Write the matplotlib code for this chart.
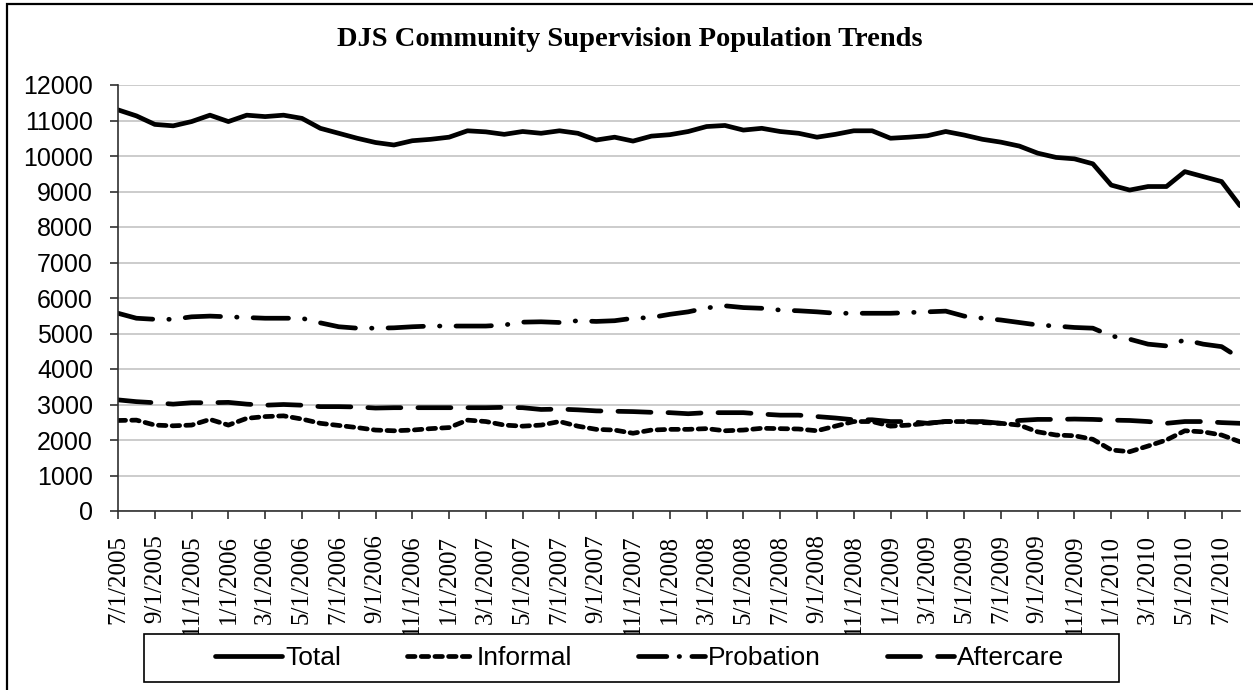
import matplotlib
matplotlib.use("Agg")
import matplotlib.pyplot as plt
import pandas as pd
from matplotlib.patches import Rectangle

# monthly counts, 7/2005 .. 8/2010
dates = pd.date_range("2005-07-01", periods=62, freq="MS")

total = [11300, 11130, 10890, 10850, 10970, 11150, 10970, 11150, 11110, 11150,
         11060, 10780, 10640, 10500, 10380, 10310, 10430, 10470, 10530, 10710,
         10680, 10610, 10690, 10640, 10710, 10640, 10450, 10530, 10420, 10560,
         10600, 10690, 10830, 10860, 10730, 10780, 10690, 10640, 10530, 10610,
         10710, 10710, 10500, 10530, 10570, 10690, 10590, 10470, 10390, 10280,
         10080, 9960, 9920, 9780, 9180, 9040, 9140, 9140, 9560, 9420,
         9280, 8600]

informal = [2550, 2560, 2420, 2400, 2420, 2580, 2420, 2610, 2660, 2680,
            2590, 2470, 2410, 2350, 2280, 2260, 2280, 2320, 2350, 2560,
            2520, 2420, 2390, 2420, 2520, 2390, 2300, 2280, 2190, 2280,
            2300, 2300, 2320, 2260, 2280, 2330, 2320, 2310, 2260, 2390,
            2520, 2520, 2390, 2420, 2470, 2520, 2520, 2490, 2470, 2420,
            2230, 2140, 2120, 2020, 1720, 1670, 1830, 2000, 2260, 2230,
            2140, 1950]

probation = [5570, 5430, 5400, 5400, 5470, 5490, 5470, 5450, 5430, 5430,
             5430, 5300, 5190, 5150, 5150, 5160, 5190, 5210, 5210, 5210,
             5210, 5240, 5320, 5330, 5310, 5360, 5340, 5360, 5430, 5450,
             5540, 5610, 5720, 5780, 5730, 5710, 5660, 5640, 5610, 5570,
             5570, 5570, 5570, 5590, 5610, 5630, 5490, 5430, 5380, 5310,
             5240, 5210, 5170, 5150, 4930, 4840, 4700, 4650, 4820, 4700,
             4630, 4300]

aftercare = [3130, 3080, 3050, 3010, 3050, 3050, 3060, 3010, 2980, 3000,
             2980, 2940, 2940, 2930, 2900, 2910, 2910, 2910, 2910, 2910,
             2910, 2920, 2910, 2860, 2870, 2850, 2820, 2810, 2800, 2780,
             2770, 2740, 2770, 2770, 2770, 2730, 2700, 2700, 2660, 2620,
             2570, 2570, 2520, 2520, 2470, 2520, 2520, 2520, 2470, 2550,
             2580, 2580, 2590, 2580, 2560, 2550, 2520, 2470, 2520, 2520,
             2490, 2470]

labels = ["{}/1/{}".format(d.month, d.year) for d in dates]
x = list(range(len(dates)))

fig = plt.figure(figsize=(12.53, 6.90), dpi=100)
ax = fig.add_axes([118/1253, 1-511/690, (1240-118)/1253, (511-85)/690])

lw = 3.4
ax.plot(x, total, color="black", lw=lw, label="Total", solid_capstyle="round")
ax.plot(x, informal, color="black", lw=lw, label="Informal", dashes=(1.6, 1.3),
        dash_capstyle="round")
ax.plot(x, probation, color="black", lw=lw, label="Probation",
        dashes=(7.5, 3.4, 0.1, 3.4), dash_capstyle="round")
ax.plot(x, aftercare, color="black", lw=lw, label="Aftercare", dashes=(7, 3.6),
        dash_capstyle="round")

ax.set_xlim(0, len(dates) - 1)
ax.set_ylim(0, 12000)
ax.set_yticks(range(0, 12001, 1000))
ax.set_xticks(x[::2])
ax.set_xticklabels(labels[::2], rotation=90)

ax.grid(axis="y", color="#c8c8c8", lw=1.3)
ax.set_axisbelow(True)
for s in ["top", "right"]:
    ax.spines[s].set_visible(False)
for s in ["left", "bottom"]:
    ax.spines[s].set_color("#303030")
    ax.spines[s].set_linewidth(1.2)
ax.tick_params(axis="y", length=6, width=1.2, color="#303030", pad=12,
               labelsize=18, labelfontfamily="Liberation Sans")
ax.tick_params(axis="x", length=6, width=1.2, color="#303030", pad=11,
               labelsize=18, labelfontfamily="Liberation Serif")

fig.text(630/1253, 1-40/690, "DJS Community Supervision Population Trends",
         ha="center", va="center", family="Liberation Serif", weight="bold",
         fontsize=20.5)

# legend box drawn by hand, Excel style
fig.patches.append(Rectangle((144/1253, 1-682/690), 975/1253, 48/690,
                             transform=fig.transFigure, facecolor="white",
                             edgecolor="black", lw=1.2, zorder=3))
leg = fig.legend(loc="center", bbox_to_anchor=(639.5/1253, 1-658/690), ncol=4,
                 prop={"family": "Liberation Sans", "size": 19},
                 handlelength=2.55, handletextpad=0.1, columnspacing=2.5,
                 frameon=False, borderpad=0, borderaxespad=0)
leg.set_zorder(5)
# probation key shows dash . dash like the original
leg.get_lines()[2].set_dashes((6.0, 2.6, 0.1, 2.6))

fig.patches.append(Rectangle((7/1253, -0.1), 1.1, 1.1 - 4/690,
                             transform=fig.transFigure, fill=False,
                             edgecolor="black", lw=1.6))

fig.savefig("out.png", dpi=100)
